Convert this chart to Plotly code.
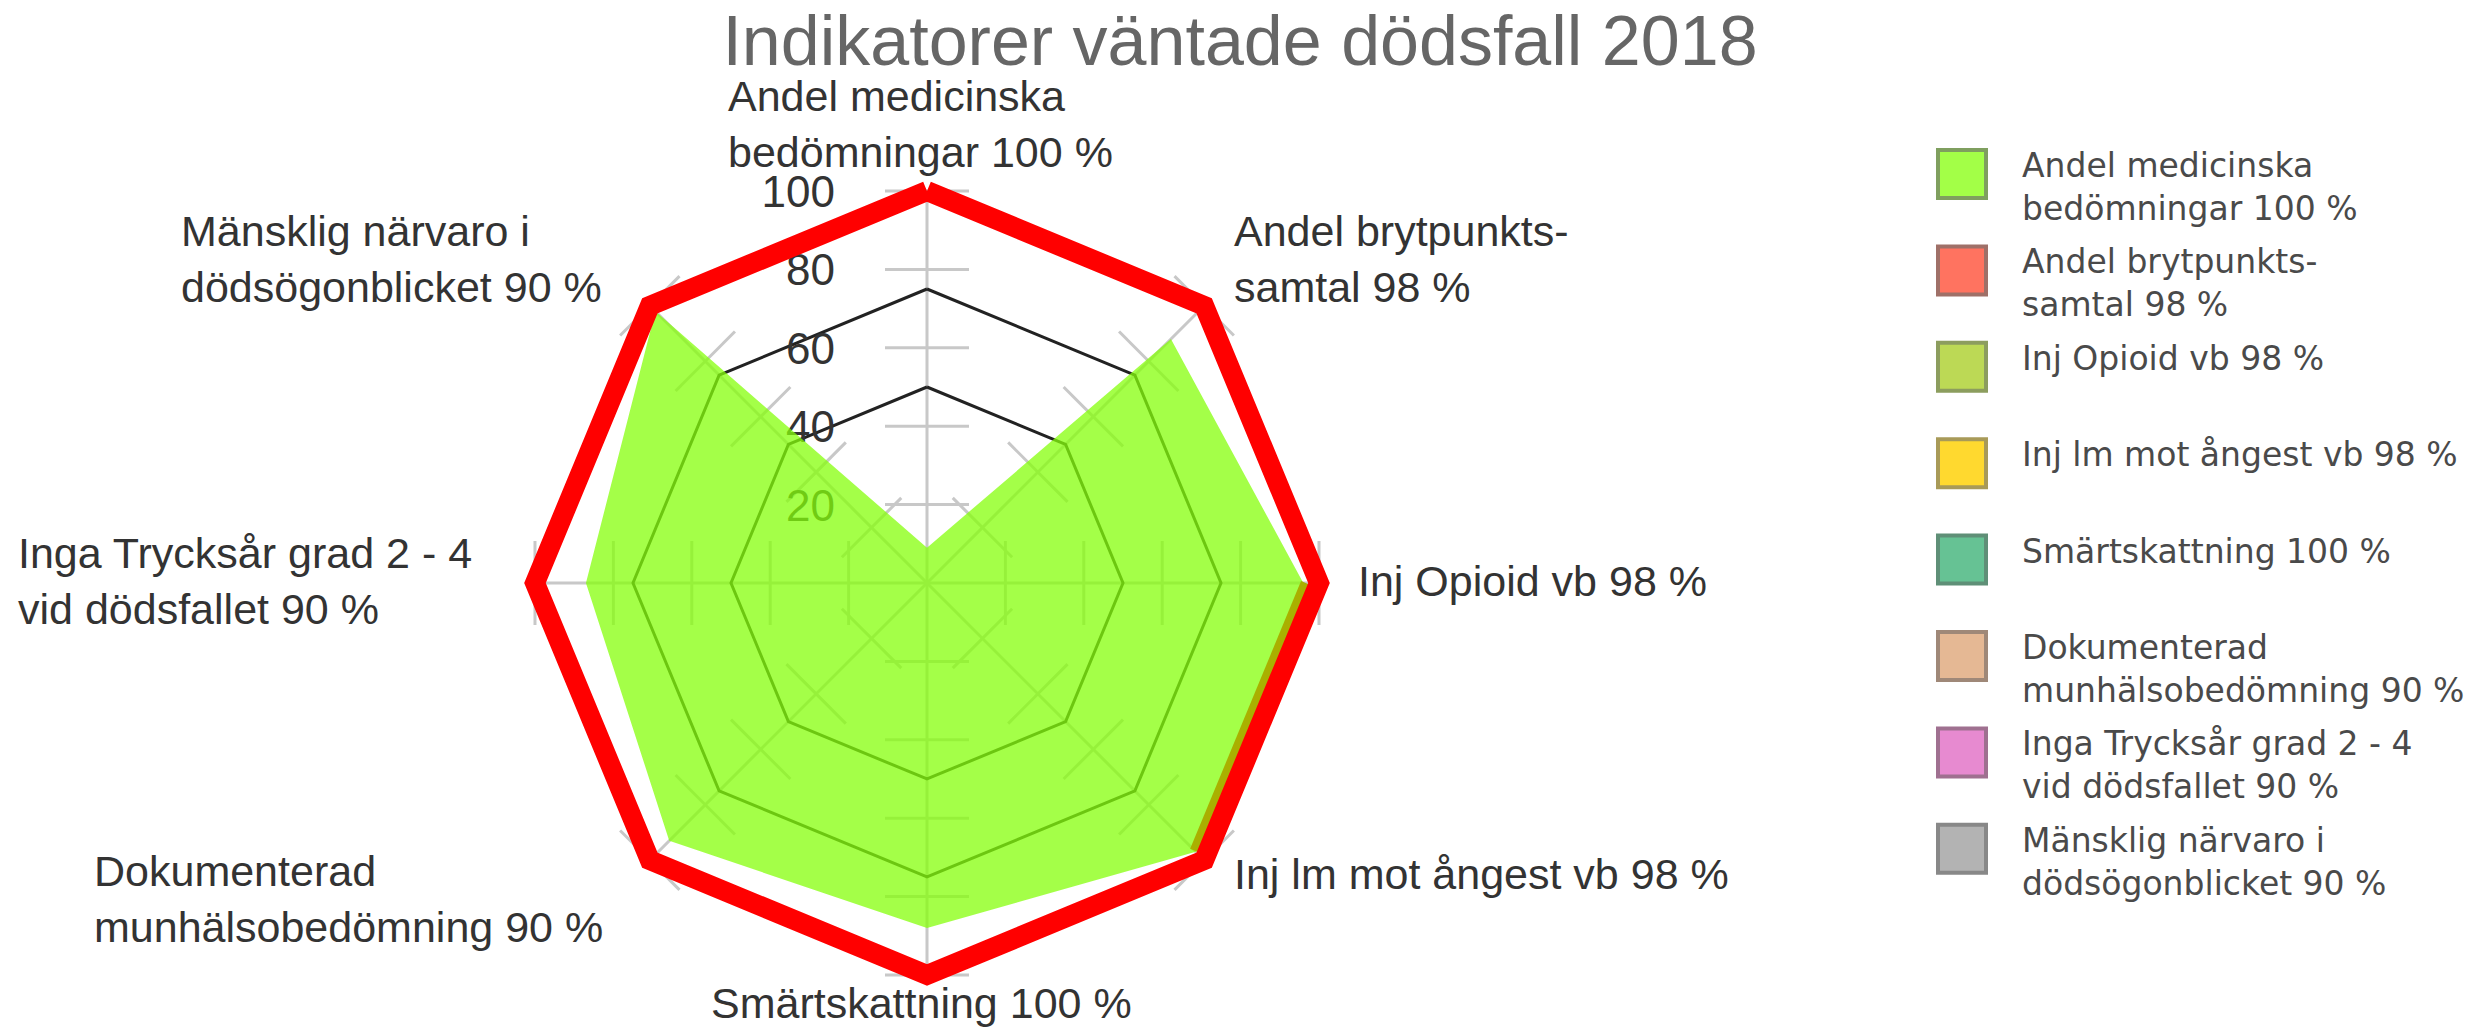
import math
import plotly.graph_objects as go

# ---------------- data ----------------
categories = [
    "Andel medicinska<br>bedömningar 100 %",
    "Andel brytpunkts-<br>samtal 98 %",
    "Inj Opioid vb 98 %",
    "Inj lm mot ångest vb 98 %",
    "Smärtskattning 100 %",
    "Dokumenterad<br>munhälsobedömning 90 %",
    "Inga Trycksår grad 2 - 4<br>vid dödsfallet 90 %",
    "Mänsklig närvaro i<br>dödsögonblicket 90 %",
]
values = [9, 88, 96, 97, 88, 93, 87, 98]          # green area
target = [100, 100, 100, 100, 100, 100, 100, 100]  # red target line
edge_values = [96.6, 96.6]                         # olive edge (Inj Opioid -> Inj lm)
edge_index = [2, 3]
ring_levels = [50, 75]
tick_vals = [20, 40, 60, 80, 100]
tick_text = ["20", "40", "60", "80", "100"]
title_text = "Indikatorer väntade dödsfall 2018"

# ---------------- layout helpers ----------------
W, H = 2478, 1027
OFF = 8                      # page body margin
CX, CY = 927, 583            # screen pixels
R = 392                      # drawn radius of value 100 (pixels)
RMAX = 105                   # radial range max (room for labels)
R_DOM = R * RMAX / 100       # domain half-size giving that radius
def px(x): return (x - OFF) / W
def py(y): return 1 - (y - OFF) / H

n = len(categories)
angles = [i * 360 / n for i in range(n)]
FONT = "Liberation Sans, Arial, sans-serif"
GRID = "#c8c8c8"

fig = go.Figure()

# spokes
sr, st = [], []
for a in angles:
    sr += [0, 100, None]
    st += [a, a, None]
fig.add_trace(go.Scatterpolar(
    r=sr, theta=st, mode="lines", line=dict(color=GRID, width=3),
    hoverinfo="skip", showlegend=False, connectgaps=False))

# rings at 50 / 75
for lv in ring_levels:
    fig.add_trace(go.Scatterpolar(
        r=[lv] * n + [lv], theta=angles + [angles[0]], mode="lines",
        line=dict(color="#222222", width=3), hoverinfo="skip", showlegend=False))

# cross ticks on each spoke
half = 42 / R * 100
cr, ct = [], []
for a in angles:
    for v in tick_vals:
        re = math.hypot(v, half)
        da = math.degrees(math.atan(half / v))
        cr += [re, re, None]
        ct += [a - da, a + da, None]
fig.add_trace(go.Scatterpolar(
    r=cr, theta=ct, mode="lines", line=dict(color=GRID, width=3),
    cliponaxis=False, hoverinfo="skip", showlegend=False, connectgaps=False))

# radial tick labels (left of the vertical axis, below the fill)
lab_dx = 92 / R * 100
lab_dy = 5 / R * 100
fig.add_trace(go.Scatterpolar(
    r=[math.hypot(v - lab_dy, lab_dx) for v in tick_vals],
    theta=[-math.degrees(math.atan(lab_dx / (v - lab_dy))) for v in tick_vals],
    mode="text", text=tick_text, textposition="middle left",
    textfont=dict(family=FONT, size=44, color="#333333"),
    cliponaxis=False, hoverinfo="skip", showlegend=False))

# green area
fig.add_trace(go.Scatterpolar(
    r=values + [values[0]], theta=angles + [angles[0]], mode="lines",
    fill="toself", fillcolor="rgba(134,255,11,0.75)",
    line=dict(color="rgba(134,255,11,0)", width=0), showlegend=False))

# olive edge
fig.add_trace(go.Scatterpolar(
    r=edge_values, theta=[angles[i] for i in edge_index], mode="lines",
    line=dict(color="#a9b000", width=10), showlegend=False, cliponaxis=False))

# red target
fig.add_trace(go.Scatterpolar(
    r=target + [target[0]], theta=angles + [angles[0]], mode="lines",
    line=dict(color="#ff0000", width=20), cliponaxis=False, showlegend=False))

fig.update_layout(
    width=W, height=H,
    margin=dict(l=0, r=0, t=0, b=0),
    paper_bgcolor="white", plot_bgcolor="white",
    showlegend=False,
    title=dict(text=title_text, x=px(1240), xanchor="center", y=py(40), yanchor="middle",
               font=dict(family=FONT, size=70, color="#666666")),
    polar=dict(
        domain=dict(x=[px(CX - R_DOM), px(CX + R_DOM)], y=[py(CY + R_DOM), py(CY - R_DOM)]),
        bgcolor="rgba(0,0,0,0)",
        radialaxis=dict(
            range=[0, RMAX], showticklabels=False,
            angle=90, showgrid=False, showline=False, ticks=""),
        angularaxis=dict(
            tickmode="array", tickvals=angles, rotation=90, direction="clockwise",
            showticklabels=False, ticks="", showline=False, showgrid=False),
    ),
)

# category labels around the chart
label_pos = [  # (x px, xanchor, y px center) in screen pixels
    (920, "center", 124),
    (1232, "left", 259),
    (1356, "left", 581),
    (1232, "left", 874),
    (921, "center", 1003),
    (92, "left", 899),
    (16, "left", 581),
    (179, "left", 259),
]
for lab, (x, xa, y) in zip(categories, label_pos):
    fig.add_annotation(x=px(x), y=py(y), xref="paper", yref="paper", text=lab,
                       showarrow=False, xanchor=xa, yanchor="middle", align="left",
                       font=dict(family=FONT, size=43, color="#333333"))

# custom legend
legend_fill = ["#a3ff47", "#ff7360", "#bcd955", "#ffd92f", "#66c294", "#e5b894", "#e78ad0", "#b3b3b3"]
legend_line = ["#7f9f5f", "#9f7068", "#8c9d5e", "#a89a58", "#5f8f77", "#9f8878", "#9f7090", "#888888"]
for i, lab in enumerate(categories):
    top = 148 + i * 96.4
    fig.add_shape(type="rect", xref="paper", yref="paper",
                  x0=px(1938), x1=px(1986), y0=py(top + 2), y1=py(top + 50),
                  fillcolor=legend_fill[i], line=dict(color=legend_line[i], width=4))
    fig.add_annotation(x=px(2020), y=py(top - 4), xref="paper", yref="paper", text=lab,
                       showarrow=False, xanchor="left", yanchor="top", align="left",
                       font=dict(family="DejaVu Sans", size=33, color="#4a4a4a"))

fig.write_html("out.html")
